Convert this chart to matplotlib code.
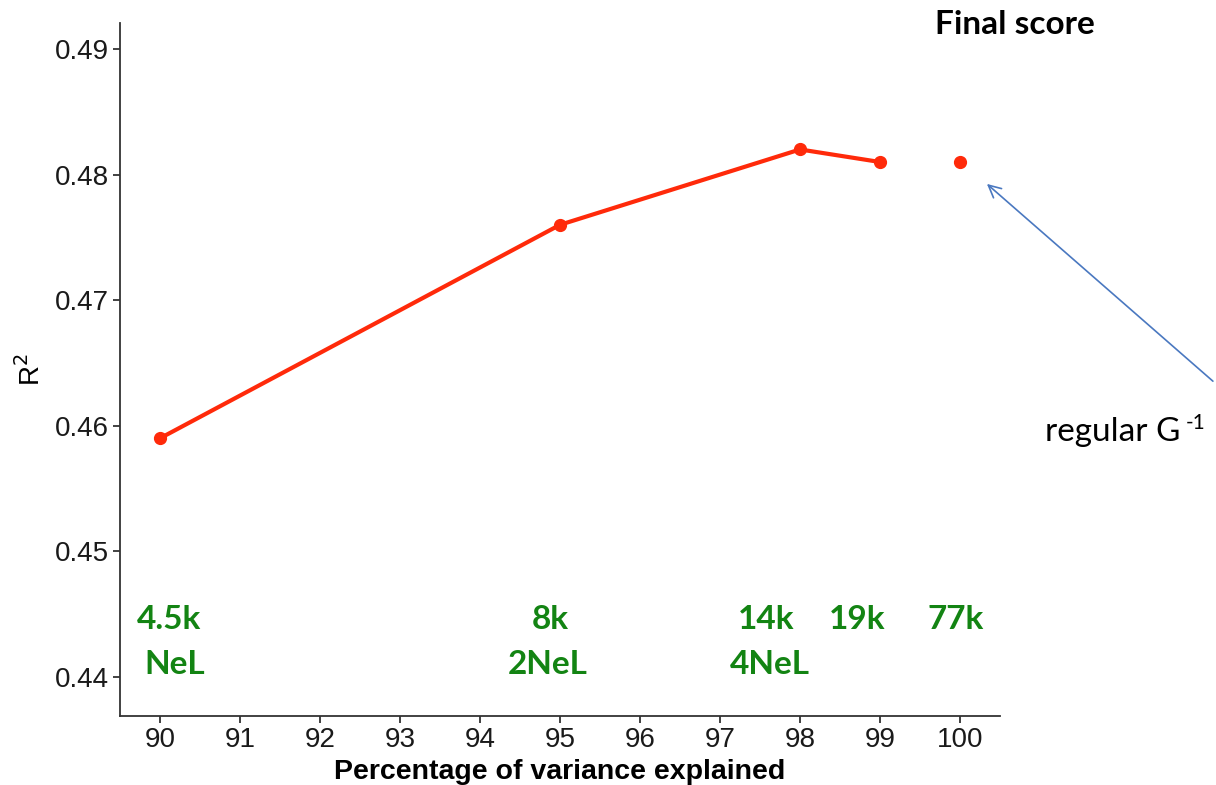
import matplotlib.pyplot as plt

plt.rcParams['font.family'] = 'Liberation Sans'

# data
pct_line = [90, 95, 98, 99]
r2_line = [0.459, 0.476, 0.482, 0.481]
pct_full = [100]
r2_full = [0.481]

x_ticks = [90, 91, 92, 93, 94, 95, 96, 97, 98, 99, 100]
y_ticks = [0.44, 0.45, 0.46, 0.47, 0.48, 0.49]

n_snps = ['4.5k', '8k', '14k', '19k', '77k']
n_snps_x = [90.11, 94.88, 97.58, 98.71, 99.94]
nel_labels = ['NeL', '2NeL', '4NeL']
nel_x = [90.18, 94.84, 97.62]

fig = plt.figure(figsize=(12.16, 7.85), dpi=100)
ax = fig.add_axes([0.0987, 0.088, 0.7237, 0.8827])

red = '#ff2a0a'
ax.plot(pct_line, r2_line, color=red, lw=3, marker='o', ms=8.5, zorder=3)
ax.plot(pct_full, r2_full, color=red, lw=0, marker='o', ms=8.5, zorder=3)

ax.set_xlim(89.5, 100.5)
ax.set_ylim(0.43689, 0.49207)
ax.set_xticks(x_ticks)
ax.set_yticks(y_ticks)
ax.set_xticklabels([str(t) for t in x_ticks])
ax.set_yticklabels(['%.2f' % t for t in y_ticks])

for side in ['top', 'right']:
    ax.spines[side].set_visible(False)
for side in ['left', 'bottom']:
    ax.spines[side].set_color('#333333')
    ax.spines[side].set_linewidth(1.3)
ax.tick_params(direction='out', length=5, width=1.3, color='#333333',
               labelsize=20, labelcolor='#1a1a1a', pad=3)

ax.set_xlabel('Percentage of variance explained', fontsize=20.5, fontweight='bold',
              labelpad=4)
ax.set_ylabel('R$^2$', fontsize=20, labelpad=6)

green = '#138413'
for lab, xv in zip(n_snps, n_snps_x):
    ax.text(xv, 0.44454, lab, color=green, fontsize=24, fontweight='bold',
            family='Lato', ha='center', va='center')
for lab, xv in zip(nel_labels, nel_x):
    ax.text(xv, 0.44096, lab, color=green, fontsize=24, fontweight='bold',
            family='Lato', ha='center', va='center')

fig.text(1015 / 1216, 1 - 25 / 785, 'Final score', fontsize=24, fontweight='bold',
         family='Lato', ha='center', va='center')

ax.annotate('', xy=(100.31, 0.4794), xytext=(1215, 785 - 383),
            textcoords='figure pixels', annotation_clip=False,
            arrowprops=dict(arrowstyle='->', color='#4a78c0', lw=1.2,
                            mutation_scale=22))
fig.text(1045 / 1216, 1 - 432 / 785, 'regular G', fontsize=24,
         family='Lato', ha='left', va='center')
fig.text(1186 / 1216, 1 - 423 / 785, '-1', fontsize=15,
         family='Lato', ha='left', va='center')

fig.savefig('out.png', dpi=100)
